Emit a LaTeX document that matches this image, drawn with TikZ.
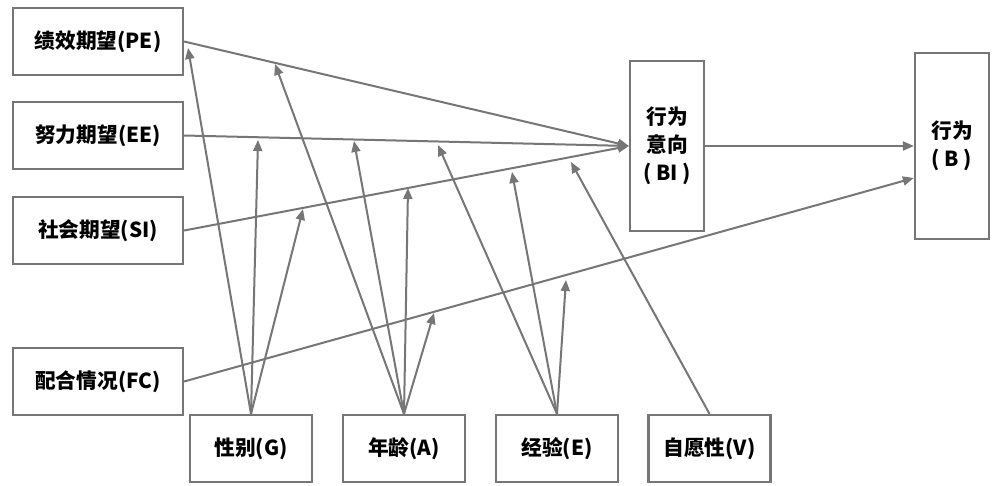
\documentclass[tikz,border=0pt]{standalone}
\usepackage{fontspec}
\setmainfont{Noto Sans CJK SC}
\usetikzlibrary{arrows.meta,calc}
\definecolor{lg}{RGB}{118,118,118}
\begin{document}
\begin{tikzpicture}[x=1pt,y=-1pt,
  box/.style={draw=lg, line width=2.2pt, rectangle, inner sep=0pt, align=center,
    font=\fontsize{20.7}{28}\selectfont\bfseries, text=black},
  lbox/.style={box, minimum width=170pt, minimum height=67pt},
  bbox/.style={box, minimum width=122pt, minimum height=67pt},
  tbox/.style={box, minimum width=74pt},
  arr/.style={draw=lg, line width=2pt, -{Triangle[length=11pt,width=9pt]}, fill=lg}
]
\fill[white] (0,0) rectangle (996,486);
\useasboundingbox (0,0) rectangle (996,486);

\node[lbox] (PE) at (98,41.5) {绩效期望(PE)};
\node[lbox] (EE) at (98,135.5) {努力期望(EE)};
\node[lbox] (SI) at (98,230.5) {社会期望(SI)};
\node[lbox] (FC) at (98,381.5) {配合情况(FC)};

\node[bbox] (G) at (251,448.5) {性别(G)};
\node[bbox] (A) at (404,448.5) {年龄(A)};
\node[bbox] (E) at (557,448.5) {经验(E)};
\node[bbox] (V) at (709.5,448.5) {自愿性(V)};

\node[tbox, minimum height=170pt] (BI) at (667,146) {行为\\意向\\( BI )};
\node[tbox, minimum height=186pt] (B) at (952,146) {行为\\( B )};

\coordinate (Bin) at ($(B.west)+(0,32)$);

\draw[arr] (PE.east) -- (BI.west);
\draw[arr] (EE.east) -- (BI.west);
\draw[arr] (SI.east) -- (BI.west);
\draw[arr] (BI.east) -- (B.west);
\draw[arr] (FC.east) -- (Bin);

\coordinate (g1) at (188,48);
\coordinate (g2) at (258,140);
\coordinate (g3) at (303,209);
\coordinate (a1) at (275,64);
\coordinate (a2) at (354,141);
\coordinate (a3) at (408,188);
\coordinate (a4) at (434,313);
\coordinate (e1) at (438,145);
\coordinate (e2) at (512,172);
\coordinate (e3) at (566,280);
\coordinate (v1) at (571,162);

\foreach \t in {g1,g2,g3} \draw[arr] (G.north) -- (\t);
\foreach \t in {a1,a2,a3,a4} \draw[arr] (A.north) -- (\t);
\foreach \t in {e1,e2,e3} \draw[arr] (E.north) -- (\t);
\draw[arr] (V.north) -- (v1);
\end{tikzpicture}
\end{document}
